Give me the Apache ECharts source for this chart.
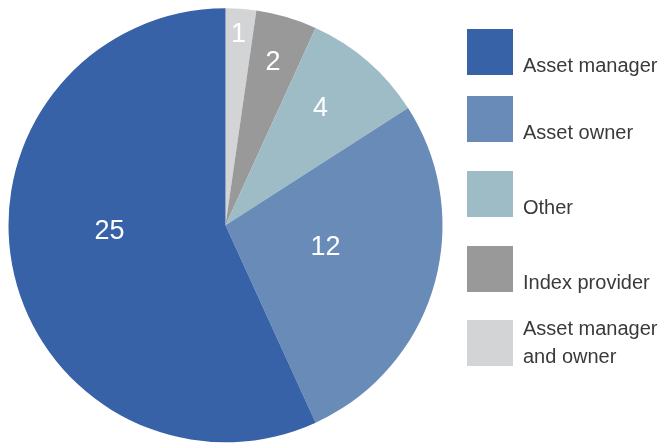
<!DOCTYPE html>
<html>
<head>
<meta charset="utf-8">
<script src="https://cdn.jsdelivr.net/npm/echarts@6/dist/echarts.min.js"></script>
<style>
html,body{margin:0;padding:0;background:#fff;}
#chart{width:662px;height:443px;}
</style>
</head>
<body>
<div id="chart"></div>
<script>
// Data (clockwise from 12 o'clock)
var categories = ['Asset manager and owner', 'Index provider', 'Other', 'Asset owner', 'Asset manager'];
var values = [1, 2, 4, 12, 25];
var colors = ['#d3d4d6', '#999999', '#9dbcc6', '#688bb7', '#3762a8'];

// Label nudges (style only): offsets from the library's inside-label position
var labelShift = [[5, -79.5], [16, -55.5], [22, -32], [-7, -9], [-7, -17]];

var FONT = '"Liberation Sans", Arial, Helvetica, sans-serif';
var TXT = '#3a3a3a';

var chart = echarts.init(document.getElementById('chart'), null, {renderer: 'canvas'});

var richText = {
  a: {fontFamily: FONT, fontSize: 20, color: TXT, lineHeight: 18, padding: [28, 0, 0, 5]},
  b: {fontFamily: FONT, fontSize: 20, color: TXT, lineHeight: 28, padding: [0, 0, 0, 5]}
};

var legendBase = {
  orient: 'vertical',
  left: 467,
  padding: 0,
  icon: 'rect',
  itemWidth: 46,
  itemHeight: 46,
  itemGap: 27,
  selectedMode: false,
  formatter: function (name) { return '{a|' + name + '}'; },
  textStyle: {fontFamily: FONT, fontSize: 20, color: TXT, rich: richText}
};

var option = {
  animation: false,
  backgroundColor: '#ffffff',
  color: colors,
  legend: [
    Object.assign({}, legendBase, {top: 28, data: [categories[4]]}),
    Object.assign({}, legendBase, {top: 95, data: [categories[3], categories[2], categories[1]]}),
    Object.assign({}, legendBase, {
      top: 319,
      data: [categories[0]],
      formatter: function (name) { return '{b|Asset manager}\n{b|and owner}'; }
    })
  ],
  series: [{
    type: 'pie',
    center: [225.5, 225.3],
    radius: [0, 217],
    startAngle: 90,
    clockwise: true,
    avoidLabelOverlap: false,
    silent: true,
    itemStyle: {borderWidth: 0},
    label: {
      show: true,
      position: 'inside',
      formatter: '{c}',
      color: '#ffffff',
      fontFamily: FONT,
      fontSize: 27
    },
    labelLine: {show: false},
    labelLayout: function (params) {
      var s = labelShift[params.dataIndex];
      return {dx: s[0], dy: s[1]};
    },
    emphasis: {disabled: true},
    data: categories.map(function (c, i) { return {name: c, value: values[i]}; })
  }]
};

chart.setOption(option);
</script>
</body>
</html>
